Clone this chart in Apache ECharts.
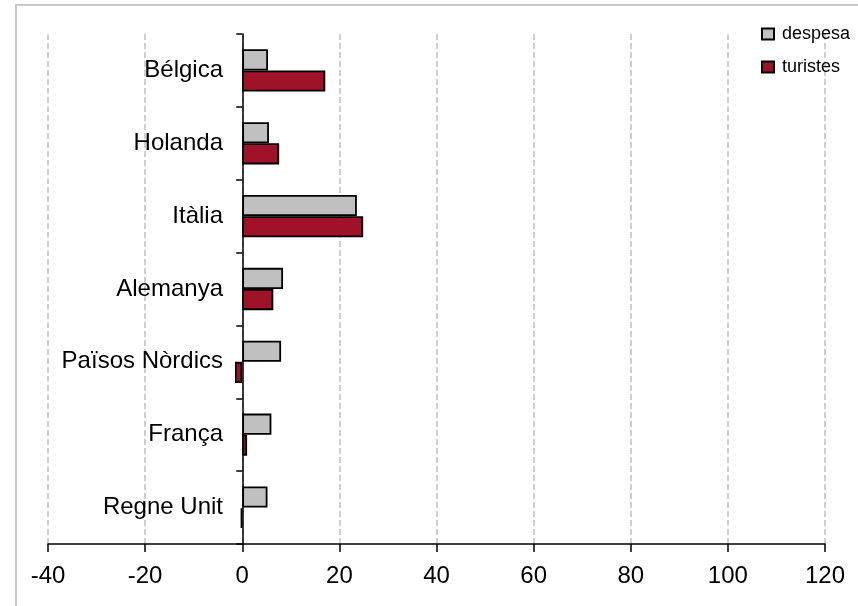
<!DOCTYPE html>
<html><head><meta charset="utf-8">
<script src="https://cdn.jsdelivr.net/npm/echarts@6/dist/echarts.min.js"></script>
<style>html,body{margin:0;padding:0;background:#fff}#c{width:858px;height:606px}</style>
</head><body><div id="c"></div>
<script>
const categories = ['Regne Unit','França','Països Nòrdics','Alemanya','Itàlia','Holanda','Bélgica'];
const despesa = [5.2, 6.0, 8.0, 8.4, 23.6, 5.5, 5.3];
const turistes = [-0.3, 1.0, -1.5, 6.4, 24.9, 7.6, 17.1];
const xTicks = {min: -40, max: 120, interval: 20};

const chart = echarts.init(document.getElementById('c'));
const font = 'Liberation Sans, Arial, sans-serif';
chart.setOption({
  animation: false,
  textStyle: {fontFamily: font},
  graphic: [{type:'rect', shape:{x:16,y:5,width:900,height:700}, style:{fill:'none', stroke:'#c8c8c8', lineWidth:2}, z:-10}],
  grid: {left: 48, right: 33, top: 34, bottom: 62, containLabel: false, outerBoundsMode: 'none'},
  legend: {
    orient: 'vertical', left: 756, top: 20, itemWidth: 12, itemHeight: 11, itemGap: 15,
    icon: 'rect',
    textStyle: {fontSize: 18, color: '#000', fontFamily: font, padding: [0,0,0,3]},
    data: ['despesa','turistes']
  },
  xAxis: {
    type: 'value', min: xTicks.min, max: xTicks.max, interval: xTicks.interval,
    axisLine: {show: true, lineStyle: {color: '#000', width: 1.5}},
    axisTick: {show: true, length: 8, lineStyle: {color: '#000', width: 1.5}},
    axisLabel: {fontSize: 24, color: '#000', margin: 20, fontFamily: font},
    splitLine: {show: true, lineStyle: {color: '#c0c0c0', type: [6,3], width: 1.5}}
  },
  yAxis: {
    type: 'category', data: categories,
    axisLine: {show: true, onZero: true, lineStyle: {color: '#000', width: 1.5}},
    axisTick: {show: true, length: 6, lineStyle: {color: '#000', width: 1.5}},
    axisLabel: {fontSize: 24, color: '#000', margin: -175, fontFamily: font}
  },
  series: [
    {name: 'despesa', type: 'bar', data: despesa, barCategoryGap: '42%', barGap: '0%',
     itemStyle: {color: '#c0c0c0', borderColor: '#000', borderWidth: 1.8}},
    {name: 'turistes', type: 'bar', data: turistes, barCategoryGap: '42%', barGap: '0%',
     itemStyle: {color: '#a01228', borderColor: '#000', borderWidth: 1.8}}
  ]
});
</script></body></html>
